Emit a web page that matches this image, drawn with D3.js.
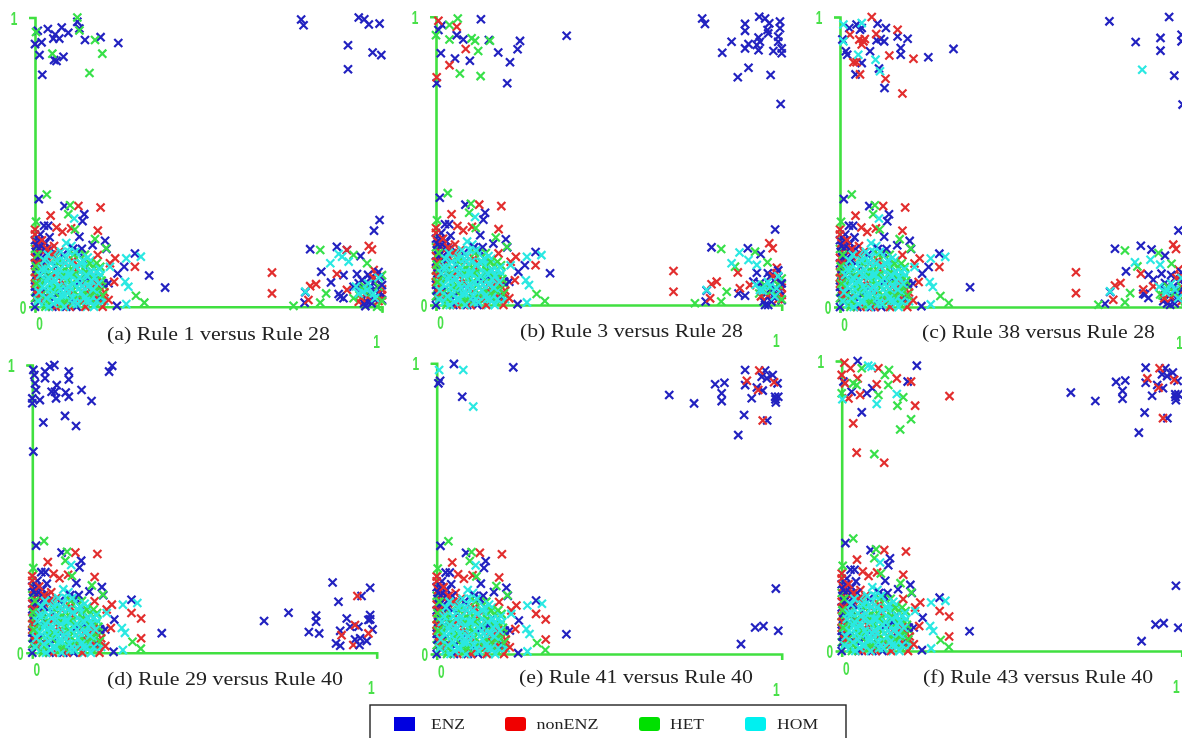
<!DOCTYPE html>
<html>
<head>
<meta charset="utf-8">
<script src="https://cdn.jsdelivr.net/npm/d3@7"></script>
<style>
  html, body { margin: 0; padding: 0; background: #fff; overflow: hidden; }
  svg { display: block; }
</style>
</head>
<body>
<div id="chart"></div>
<script>
var categories = ["ENZ", "nonENZ", "HET", "HOM"];
var tickValues = [0, 1];

// dense cluster near the origin, it looks the same in every panel
var coreEnz = [[0,.23],[.002,.19],[0,.15],[.004,.11],[0,.07],[.003,.03],[0,0],[.015,.25],[.03,.22],[.02,.17],[.045,.2],[.06,.14],[.035,.09],[.08,.18],[.1,.12],[.07,.05],[.105,.02],[.13,.09],[.125,.19],[.15,.05],[.12,0],[.16,.12],[.165,.02],[.09,0],[.05,0],[.14,.16],[.02,.05],[.055,.03],[.005,.21],[.11,.2],[.18,.06],[.025,.12],[.008,.17],[.01,.09],[.002,.05],[.006,.13],[.012,.23],[.018,.21],[.027,.2],[.033,.16],[.042,.24],[.17,.11],[.15,.1],[.19,.03],[.135,.2]];
var coreRed = [[0,.25],[.004,.22],[.012,.2],[0,.17],[.025,.19],[.04,.16],[.055,.21],[.07,.19],[.085,.15],[0,.12],[.015,.13],[.05,.1],[.075,.09],[.095,.06],[.12,.13],[.14,.11],[.17,.09],[.16,.04],[.13,.03],[.18,.03],[0,.08],[.03,.03],[.06,0],[.1,0],[.01,.06],[.145,0],[.195,0],[.11,.16],[.006,.15],[.02,.23],[.035,.2],[.048,.18],[.062,.12],[.003,.1],[.008,.04],[.15,.07],[.185,.07],[.2,.05]];
var coreHet = [[0,.2],[.01,.15],[0,.1],[.005,.06],[0,.03],[.02,.09],[.03,.14],[.04,.05],[.06,.17],[.075,.12],[.09,.09],[.1,.04],[.12,.07],[.13,.15],[.15,.09],[.17,.13],[.16,.06],[.185,.1],[.19,.02],[.14,.02],[.08,.01],[.03,0],[.05,.08],[.01,.02],[.065,.06],[.105,.13],[.175,.01],[.2,.07],[.006,.12],[.012,.09],[.018,.04],[.024,.12],[.036,.02],[.044,.11],[.052,.06],[.059,.12],[.067,.15],[.072,.03],[.082,.11],[.091,.02],[.097,.14],[.106,.08],[.113,.11],[.124,.04],[.131,.1],[.138,.05],[.146,.12],[.154,.04],[.166,.1],[.172,.05],[.181,.07],[.192,.09],[.158,.15],[.196,.04],[.144,.18],[.008,.18],[.002,.14],[.004,.08],[.112,.18],[.178,.15]];
var coreHom = [[.02,.1],[.03,.06],[.04,.12],[.05,.03],[.05,.08],[.06,.14],[.065,.05],[.07,.1],[.075,.01],[.08,.07],[.085,.13],[.09,.17],[.095,.03],[.1,.09],[.105,.21],[.11,.15],[.115,.05],[.12,.11],[.125,.18],[.09,.22],[.13,.08],[.135,.02],[.14,.13],[.145,.06],[.15,0],[.155,.1],[.16,.16],[.165,.03],[.17,.08],[.015,.03],[.025,.01],[.035,.09],[.045,.15],[.055,.18],[.07,.16],[.08,.03],[.1,.12],[.11,.01],[.12,.03],[.13,.12],[.14,.09],[.06,.02],[.01,.08],[.03,.13],[.18,.05],[.19,.11],[.075,.19],[.105,.06],[.085,0],[.125,.06],[.2,.02],[.15,.14],[.17,0],[.04,0],[.065,.11],[.095,.07],[.012,.05],[.022,.07],[.033,.03],[.038,.1],[.043,.06],[.048,.13],[.053,.01],[.058,.09],[.062,.16],[.068,.07],[.072,.13],[.078,.04],[.083,.1],[.088,.15],[.092,.06],[.098,.19],[.102,.11],[.108,.03],[.112,.08],[.118,.14],[.122,.01],[.128,.1],[.133,.05],[.138,.16],[.142,.03],[.148,.11],[.152,.07],[.158,.02],[.162,.12],[.168,.06],[.172,.1],[.178,.02],[.183,.08],[.027,.16],[.037,.18],[.047,.04],[.067,.02],[.082,.16],[.096,.11],[.116,.19],[.134,.15],[.152,.17],[.186,.13],[.02,.13],[.015,.11],[.008,.02],[.042,.08],[.056,.12],[.073,.06],[.087,.04],[.103,.15],[.121,.09],[.137,.07],[.147,.02],[.163,.09],[.177,.12]];

// sparse points round that cluster, also shared
var tailEnz = [[.011,.372],[.085,.348],[.142,.32],[.137,.296],[.026,.28],[.038,.28],[.128,.242],[.202,.228],[.206,.2],[.288,.184],[.238,.115],[.212,.081],[.197,.081],[.236,.003],[.166,.213]];
var tailRed = [[.045,.315],[.125,.348],[.189,.343],[.062,.274],[.079,.259],[.104,.271],[0,.267],[.181,.263],[.181,.179],[.231,.167],[.288,.138],[.228,.086],[.178,.081],[.212,.023],[.216,.15]];
var tailHet = [[.034,.388],[.101,.351],[.096,.32],[.003,.294],[.115,.267],[.173,.234],[.205,.202],[.291,.038],[.315,.014],[.188,.138]];
var tailHom = [[.113,.305],[.263,.167],[.305,.173],[.26,.086],[.269,.069],[.263,.009],[.216,.138]];
var tailRedLower = [[.316,.119],[.316,.05]];

// pile in the bottom right corner of the top row
var cornerEnz = [[.94,.06],[.955,.04],[.965,.07],[.975,.03],[.985,.09],[.995,.05],[.948,.012],[.97,.012],[.98,.06],[.99,.12],[.96,.11],[1,.075]];
var cornerRed = [[.99,.02],[.985,.11],[.96,.03],[.94,.03],[1,.06],[.975,.1]];
var cornerHet = [[.935,.04],[.95,.07],[.97,.05],[.99,.07],[1,.02]];
var cornerHom = [[.945,.05],[.96,.08],[.98,.03],[.99,.1],[.925,.07]];

// (a) Rule 1 versus Rule 28
var aEnz = [[.257,.138],[.329,.108],[.375,.066],[.008,.954],[.037,.96],[.077,.965],[.096,.947],[.058,.941],[.053,.927],[.07,.927],[0,.908],[.019,.914],[.013,.87],[.055,.853],[.062,.85],[.082,.864],[.021,.802],[.122,.985],[.128,.962],[.144,.922],[.189,.932],[.24,.912],[.767,.993],[.774,.973],[.933,1],[.949,.994],[.962,.976],[.993,.979],[.902,.904],[.973,.879],[.998,.87],[.902,.821],[.993,.3],[.977,.263],[.793,.199],[.87,.207],[.938,.175],[.899,.196],[.825,.121],[.853,.084],[.889,.109],[.928,.113],[.779,.05],[.777,.014],[.875,.044],[.889,.029],[.933,.081],[.966,.098],[.99,.069],[.952,.002],[1,.023],[.995,.104],[.918,.069],[.957,.017],[.88,.035],[.976,.081],[.942,.092],[.99,.046]];
var aRed = [[.683,.118],[.683,.046],[.962,.21],[.971,.198],[.793,.071],[.81,.078],[.788,.023],[.87,.113],[.976,.127],[.899,.058],[1,.04],[.899,.196],[.933,.017]];
var aHet = [[.122,1],[.003,.95],[.05,.875],[.173,.922],[.194,.875],[.157,.808],[.128,.955],[.822,.196],[.957,.15],[.745,.003],[.822,.014],[.839,.046],[.918,.179],[1,.109],[.986,0],[.918,.029],[.947,.058]];
var aHom = [[.875,.182],[.851,.15],[.904,.156],[.885,.173],[.779,.052],[.957,.058],[.933,.046],[.976,.046]];

// (b) Rule 3 versus Rule 28
var bEnz = [[.257,.138],[.33,.11],[.13,.991],[.018,.971],[.007,.954],[.06,.936],[.079,.921],[.153,.919],[.243,.916],[.236,.887],[.18,.876],[.214,.842],[.014,.873],[.055,.855],[.098,.847],[.206,.769],[.002,.769],[.77,.994],[.778,.975],[.935,1],[.952,.994],[.964,.977],[.995,.983],[.995,.96],[.894,.975],[.894,.951],[.959,.954],[.961,.942],[.99,.931],[.99,.913],[.855,.913],[.904,.905],[.933,.928],[.937,.913],[.928,.902],[.894,.89],[.933,.884],[.976,.881],[1,.89],[1,.873],[.828,.875],[.904,.823],[.873,.79],[.968,.798],[.997,.697],[.378,.934],[.981,.262],[.797,.2],[.902,.197],[.939,.176],[.928,.112],[.966,.098],[.783,.05],[.78,.012],[.875,.04],[.894,.032],[.937,.075],[.995,.064],[1,.017],[.952,0],[.961,0],[.918,.081],[.975,.104],[.985,.04]];
var bRed = [[.007,.986],[.06,.965],[.086,.888],[.039,.832],[.002,.79],[.687,.118],[.687,.046],[.964,.214],[.974,.197],[.797,.072],[.812,.081],[.793,.023],[.873,.113],[.986,.129],[.879,.058],[.908,.069],[1,.035]];
var bHet = [[.063,.994],[.039,.971],[0,.936],[.039,.921],[.103,.925],[.113,.917],[.122,.881],[.069,.803],[.129,.794],[.156,.917],[.825,.194],[.749,.006],[.825,.012],[.841,.046],[.923,.185],[.959,.148],[1,.092],[.947,.052],[.865,.133]];
var bHom = [[.878,.182],[.855,.145],[.904,.156],[.928,.139],[.783,.052],[.966,.064],[.937,.052],[.985,.058]];

// (c) Rule 38 versus Rule 28
var cEnz = [[.257,.138],[.377,.068],[.027,.962],[.048,.974],[.063,.962],[.109,.977],[.133,.962],[.167,.933],[.196,.925],[.106,.92],[.118,.924],[.128,.916],[.176,.893],[.176,.87],[.087,.882],[.017,.882],[.021,.87],[.063,.841],[.256,.861],[.329,.89],[.113,.822],[.045,.802],[.129,.755],[.058,.956],[.007,.922],[.781,.985],[.954,1],[.857,.914],[.929,.928],[.929,.884],[.99,.939],[.99,.916],[.969,.798],[.993,.698],[.981,.264],[.797,.201],[.872,.211],[.942,.177],[.903,.198],[.829,.123],[.894,.111],[.932,.115],[.908,.094],[.783,.052],[.768,.011],[.879,.046],[.894,.031],[.942,.083],[.971,.1],[.937,.02],[.957,.008],[.99,.094],[.884,.043],[.986,.048]];
var cRed = [[.092,1],[.105,.941],[.167,.956],[.029,.939],[.056,.922],[.068,.916],[.063,.905],[.072,.924],[.039,.844],[.143,.867],[.213,.856],[.132,.787],[.058,.802],[.181,.736],[.048,.844],[.684,.12],[.684,.048],[.966,.215],[.974,.2],[.797,.074],[.813,.083],[.792,.025],[.872,.115],[.981,.129],[.908,.071],[.879,.06]];
var cHet = [[.826,.195],[.749,.008],[.826,.016],[.841,.048],[.923,.186],[.961,.149],[.928,.043],[.862,.14]];
var cHom = [[.01,.974],[.063,.979],[.01,.916],[.053,.87],[.103,.853],[.116,.813],[.876,.818],[.855,.154],[.9,.163],[.928,.146],[.783,.054],[.947,.06],[.971,.06]];

// (d) Rule 29 versus Rule 40
var dEnz = [[.376,.068],[.064,1],[.051,.994],[.037,.977],[.003,.983],[.006,.965],[.037,.954],[.106,.977],[.106,.95],[.232,.997],[.223,.977],[.071,.93],[.008,.936],[.011,.913],[.056,.907],[.066,.907],[.097,.904],[.143,.913],[.069,.884],[.106,.89],[.022,.878],[0,.884],[0,.867],[.172,.875],[.095,.823],[.032,.8],[.127,.788],[.003,.699],[.673,.11],[.744,.139],[.872,.244],[.889,.177],[.981,.226],[.956,.197],[.824,.129],[.824,.108],[.803,.072],[.833,.067],[.913,.119],[.894,.076],[.981,.131],[.981,.116],[.947,.09],[.923,.09],[.988,.081],[.937,.046],[.952,.05],[.971,.041],[.882,.032],[.894,.024],[.95,.027],[.976,.114]];
var dRed = [[.944,.197],[.937,.096],[.898,.061],[.932,.027],[.976,.067]];

// (e) Rule 41 versus Rule 40, its right side comes back in (f)
var eEnzLeft = [[.376,.068],[.05,.998],[.222,.986],[.01,.94],[.005,.931],[.074,.885]];
var rightEnz = [[.674,.891],[.746,.862],[.807,.928],[.834,.933],[.826,.897],[.826,.87],[.894,.977],[.894,.925],[.952,.975],[.942,.954],[.974,.96],[.957,.948],[.988,.931],[.928,.917],[.945,.906],[.913,.88],[.981,.885],[.99,.885],[.983,.865],[.982,.876],[.891,.822],[.958,.803],[.874,.753],[.983,.225],[.923,.091],[.947,.096],[.99,.08],[.882,.034]];
var rightRed = [[.935,.975],[.899,.94],[.932,.908],[.978,.935],[.945,.803]];
var eHom = [[.007,.977],[.077,.977],[.106,.851]];

// (f) Rule 43 versus Rule 40
var fEnzLeft = [[.376,.068],[.047,1],[.221,.984],[.194,.929],[.09,.906],[.005,.929],[.029,.894],[.074,.889],[.059,.823]];
var fRed = [[.008,.994],[.026,.975],[.108,.975],[.162,.94],[.103,.92],[.204,.929],[.317,.879],[.047,.94],[.01,.923],[.054,.883],[.02,.871],[.216,.846],[.034,.785],[.044,.684],[.125,.649],[0,.952]];
var fHet = [[.139,.969],[.127,.952],[.137,.917],[.044,.917],[0,.889],[.108,.883],[.181,.875],[.164,.846],[.204,.799],[.172,.764],[.096,.679],[.059,.975],[.034,.923]];
var fHom = [[.078,.984],[.162,.886],[.103,.852],[.002,.868],[.088,.98]];

var baseEnz = coreEnz.concat(tailEnz);
var baseRed = coreRed.concat(tailRed);
var baseHet = coreHet.concat(tailHet);
var baseHom = coreHom.concat(tailHom);
var baseRedLower = baseRed.concat(tailRedLower);

var width = 1182;
var height = 738;
var markerColor = d3.scaleOrdinal().domain(categories).range(["#2222c0", "#e22e2e", "#38e04a", "#2ce8e2"]);
var swatchColor = d3.scaleOrdinal().domain(categories).range(["#0000e0", "#f00000", "#00e000", "#00f0f0"]);
var axisColor = "#40e040";

// where each panel sits on the page
var panels = [
  {caption: "(a) Rule 1 versus Rule 28", x0: 35, x1: 382, y0: 306.7, y1: 17.5, capX: 107, capW: 223, capY: 340,
   points: [baseEnz.concat(aEnz, cornerEnz), baseRed.concat(aRed, cornerRed), baseHet.concat(aHet, cornerHet), baseHom.concat(aHom, cornerHom)]},
  {caption: "(b) Rule 3 versus Rule 28", x0: 436, x1: 781.7, y0: 305, y1: 16.7, capX: 520, capW: 223, capY: 337,
   points: [baseEnz.concat(bEnz, cornerEnz), baseRed.concat(bRed, cornerRed), baseHet.concat(bHet, cornerHet), baseHom.concat(bHom, cornerHom)]},
  {caption: "(c) Rule 38 versus Rule 28", x0: 840, x1: 1185, y0: 307, y1: 17, capX: 922, capW: 233, capY: 338,
   points: [baseEnz.concat(cEnz, cornerEnz), baseRed.concat(cRed, cornerRed), baseHet.concat(cHet, cornerHet), baseHom.concat(cHom, cornerHom)]},
  {caption: "(d) Rule 29 versus Rule 40", x0: 32.3, x1: 376.7, y0: 652.7, y1: 365, capX: 107, capW: 236, capY: 685,
   points: [baseEnz.concat(dEnz), baseRedLower.concat(dRed), baseHet, baseHom]},
  {caption: "(e) Rule 41 versus Rule 40", x0: 436.7, x1: 781.7, y0: 654, y1: 363.3, capX: 519, capW: 234, capY: 683,
   points: [baseEnz.concat(eEnzLeft, rightEnz), baseRedLower.concat(rightRed), baseHet, baseHom.concat(eHom)]},
  {caption: "(f) Rule 43 versus Rule 40", x0: 841.7, x1: 1181.7, y0: 651, y1: 361, capX: 923, capW: 230, capY: 683,
   points: [baseEnz.concat(fEnzLeft, rightEnz), baseRedLower.concat(fRed, rightRed), baseHet.concat(fHet), baseHom.concat(fHom)]}
];

/*
// Merges the four series of a panel into one list, in drawing order. The
// classes are interleaved so the cluster looks mixed, HOM still stays a bit
// later than the others because it is on top in most of the original
*/
function DrawOrder(points)
{
  var rows = [];
  categories.forEach(function(cat, i)
  {
    points[i].forEach(function(d, j)
    {
      var weight = cat === "HOM" ? 1 : 0.8;
      rows.push({cat: cat, x: d[0], y: d[1], order: weight * j / points[i].length});
    });
  });
  rows.sort(function(a, b) {return d3.ascending(a.order, b.order);});
  return rows;
}

var svg = d3.select("#chart").append("svg")
            .attr("width", width)
            .attr("height", height);

// the reference is a soft jpeg, so everything gets a slight blur
svg.append("filter")
   .attr("id", "soft")
   .attr("filterUnits", "userSpaceOnUse")
   .attr("x", 0).attr("y", 0)
   .attr("width", width).attr("height", height)
   .append("feGaussianBlur")
   .attr("stdDeviation", 0.45);

var root = svg.append("g").attr("filter", "url(#soft)");
var marker = d3.symbol().type(d3.symbolX).size(44);

panels.forEach(function(p)
{
  var xScale = d3.scaleLinear().domain([0, 1]).range([p.x0, p.x1]);
  var yScale = d3.scaleLinear().domain([0, 1]).range([p.y0, p.y1]);
  var g = root.append("g");

  var xAxis = g.append("g")
               .attr("transform", "translate(0," + p.y0 + ")")
               .call(d3.axisBottom(xScale).tickValues(tickValues).tickFormat(d3.format("d")).tickSizeOuter(0).tickSize(6));
  var yAxis = g.append("g")
               .attr("transform", "translate(" + p.x0 + ",0)")
               .call(d3.axisLeft(yScale).tickValues(tickValues).tickFormat(d3.format("d")).tickSizeOuter(0).tickSize(6));

  g.selectAll(".domain").attr("stroke", axisColor).attr("stroke-width", 2.6);
  g.selectAll(".tick line").attr("stroke", axisColor).attr("stroke-width", 1.6);
  g.selectAll(".tick text")
   .attr("x", 0).attr("y", 0).attr("dy", ".35em")
   .attr("text-anchor", "middle")
   .attr("fill", "#48e048")
   .attr("font-family", "Liberation Sans")
   .attr("font-weight", "bold")
   .attr("font-size", 14);

  // the labels are placed oddly in the original: the x axis "1" is well below its tick
  xAxis.selectAll(".tick text").attr("transform", function(d) {
    return d === 0 ? "translate(4,17) scale(.85,1.35)" : "translate(-6,35) scale(.85,1.35)";
  });
  yAxis.selectAll(".tick text").attr("transform", function(d) {
    return d === 0 ? "translate(-12,0) scale(.85,1.35)" : "translate(-21,0) scale(.85,1.35)";
  });

  g.append("g").selectAll("path")
   .data(DrawOrder(p.points))
   .enter().append("path")
   .attr("d", marker)
   .attr("transform", function(d) {return "translate(" + xScale(d.x) + "," + yScale(d.y) + ")";})
   .attr("fill", "none")
   .attr("stroke", function(d) {return markerColor(d.cat);})
   .attr("stroke-width", 2.2);

  g.append("text")
   .attr("x", p.capX)
   .attr("y", p.capY)
   .attr("textLength", p.capW)
   .attr("lengthAdjust", "spacingAndGlyphs")
   .attr("font-family", "Liberation Serif")
   .attr("font-size", 18)
   .attr("fill", "#222")
   .text(p.caption);
});

// legend, the box runs off the bottom of the page
var legend = root.append("g");
legend.append("rect")
      .attr("x", 370).attr("y", 705)
      .attr("width", 476).attr("height", 60)
      .attr("fill", "#fff")
      .attr("stroke", "#222")
      .attr("stroke-width", 1.4);

var swatchX = d3.scaleOrdinal().domain(categories).range([394, 505, 639, 745]);
var labelX = d3.scaleOrdinal().domain(categories).range([431, 536.5, 670, 777]);
var labelW = d3.scaleOrdinal().domain(categories).range([34, 62, 34, 41]);

legend.selectAll(".swatch")
      .data(categories)
      .enter().append("rect")
      .attr("class", "swatch")
      .attr("x", function(d) {return swatchX(d);})
      .attr("y", 717)
      .attr("width", 21)
      .attr("height", 14)
      .attr("rx", function(d) {return d === "ENZ" ? 0 : 3;})
      .attr("fill", function(d) {return swatchColor(d);});

legend.selectAll(".label")
      .data(categories)
      .enter().append("text")
      .attr("class", "label")
      .attr("x", function(d) {return labelX(d);})
      .attr("y", 729)
      .attr("textLength", function(d) {return labelW(d);})
      .attr("lengthAdjust", "spacingAndGlyphs")
      .attr("font-family", "Liberation Serif")
      .attr("font-size", 14)
      .attr("fill", "#222")
      .text(function(d) {return d;});
</script>
</body>
</html>
